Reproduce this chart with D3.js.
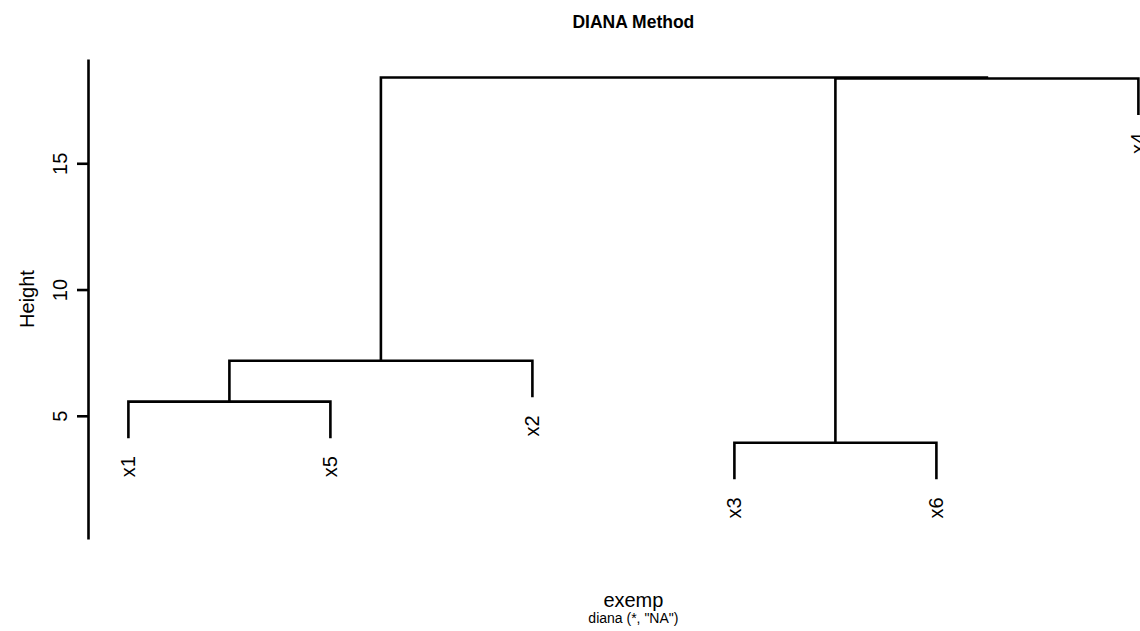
<!DOCTYPE html>
<html>
<head>
<meta charset="utf-8">
<script src="https://cdn.jsdelivr.net/npm/d3@7"></script>
<style>
  html, body { margin: 0; padding: 0; background: #fff; }
  svg { display: block; font-family: "Liberation Sans", Arial, Helvetica, sans-serif; }
</style>
</head>
<body>
<svg id="chart" width="1140" height="631"></svg>
<script>
// Leaf order along the x axis
const leafLabels = ["x1", "x5", "x2", "x3", "x6", "x4"];

// Merge steps: left child, right child, height (m1..m5 refer to earlier merges)
const mergeLeft   = ["x1", "m1", "x3", "m3", "m2"];
const mergeRight  = ["x5", "x2", "x6", "x4", "m4"];
const mergeHeight = [5.56, 7.18, 3.93, 18.36, 18.40];

// Axis ticks
const heightTicks = [5, 10, 15];

// Text
const titleText = "DIANA Method";
const xLabelText = "exemp";
const subText = 'diana (*, "NA")';
const yLabelText = "Height";

const svg = d3.select("#chart");

// Plot region (extends past the right edge of the picture)
const plotLeft = 88, plotRight = 1178.8;
const plotTop = 59, plotBottom = 539;

const x = d3.scaleLinear()
  .domain([0.8, leafLabels.length + 0.2])
  .range([plotLeft, plotRight]);

const y = d3.scaleLinear()
  .domain([0.12, 19.13])
  .range([plotBottom, plotTop]);

// Leaves hang below their parent by a tenth of the height range
const hang = 0.1 * (d3.max(mergeHeight) - d3.min(mergeHeight));

// Node positions: leaves at their order index, merges at the midpoint of children
const pos = {};
leafLabels.forEach((l, i) => { pos[l] = { x: i + 1, h: null, leaf: true }; });
mergeHeight.forEach((h, i) => {
  const a = pos[mergeLeft[i]], b = pos[mergeRight[i]];
  pos["m" + (i + 1)] = { x: (a.x + b.x) / 2, h: h, leaf: false };
});

const lineW = 2.6;
const g = svg.append("g");

mergeHeight.forEach((h, i) => {
  const a = pos[mergeLeft[i]], b = pos[mergeRight[i]];
  [a, b].forEach(c => {
    if (c.leaf) c.h = h; // parent height, used for the hanging leaf end
  });
  const aBottom = a.leaf ? h - hang : a.h;
  const bBottom = b.leaf ? h - hang : b.h;
  const path = d3.path();
  path.moveTo(x(a.x), y(aBottom));
  path.lineTo(x(a.x), y(h));
  path.lineTo(x(b.x), y(h));
  path.lineTo(x(b.x), y(bBottom));
  g.append("path")
    .attr("d", path.toString())
    .attr("fill", "none")
    .attr("stroke", "#000")
    .attr("stroke-width", lineW)
    .attr("stroke-linejoin", "miter")
    .attr("stroke-linecap", "butt");
});

// Leaf labels, rotated, hanging below each leaf end
leafLabels.forEach(l => {
  const p = pos[l];
  const ly = y(p.h - hang) + 18;
  svg.append("text")
    .attr("transform", `translate(${x(p.x)},${ly}) rotate(-90)`)
    .attr("text-anchor", "end")
    .attr("dominant-baseline", "central")
    .attr("font-size", 20)
    .attr("fill", "#000")
    .text(l);
});

// Height axis
const yAxis = d3.axisLeft(y)
  .tickValues(heightTicks)
  .tickSize(11)
  .tickSizeOuter(0)
  .tickFormat(d3.format("d"));

const ax = svg.append("g")
  .attr("transform", `translate(${plotLeft},0)`)
  .call(yAxis);
ax.select(".domain").attr("stroke", "#000").attr("stroke-width", lineW);
ax.selectAll(".tick line").attr("stroke", "#000").attr("stroke-width", lineW);
ax.selectAll(".tick text")
  .attr("font-family", "Liberation Sans, Arial, sans-serif")
  .attr("font-size", 20)
  .attr("fill", "#000")
  .attr("x", null).attr("dy", null)
  .attr("text-anchor", "middle")
  .attr("dominant-baseline", "central")
  .attr("transform", "translate(-28,0) rotate(-90)");

// Axis title
svg.append("text")
  .attr("transform", `translate(27,${(plotTop + plotBottom) / 2}) rotate(-90)`)
  .attr("text-anchor", "middle")
  .attr("dominant-baseline", "central")
  .attr("font-size", 20)
  .text(yLabelText);

const cx = (plotLeft + plotRight) / 2;

// Main title
svg.append("text")
  .attr("x", cx).attr("y", 28)
  .attr("text-anchor", "middle")
  .attr("font-size", 17.5)
  .attr("font-weight", "bold")
  .text(titleText);

// x label and subtitle
svg.append("text")
  .attr("x", cx).attr("y", 607)
  .attr("text-anchor", "middle")
  .attr("font-size", 20)
  .text(xLabelText);

svg.append("text")
  .attr("x", cx).attr("y", 623)
  .attr("text-anchor", "middle")
  .attr("font-size", 14)
  .text(subText);
</script>
</body>
</html>
